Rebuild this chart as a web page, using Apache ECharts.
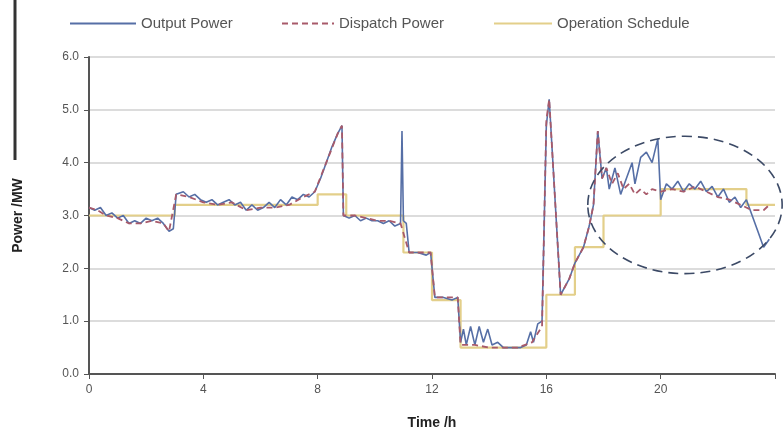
<!DOCTYPE html>
<html><head><meta charset="utf-8">
<script src="https://cdn.jsdelivr.net/npm/echarts@6/dist/echarts.min.js"></script>
<style>html,body{margin:0;padding:0;background:#fff}#c{width:783px;height:435px}</style>
</head><body><div id="c"></div>
<script>
// Output Power (time h, MW)
const outT = [0,0.2,0.4,0.6,0.8,1.0,1.2,1.4,1.6,1.8,2.0,2.2,2.4,2.6,2.8,2.95,3.05,3.3,3.5,3.7,3.9,4.1,4.3,4.5,4.7,4.9,5.1,5.3,5.5,5.7,5.9,6.1,6.3,6.5,6.7,6.9,7.1,7.3,7.5,7.7,7.9,8.1,8.3,8.5,8.7,8.85,8.9,9.1,9.3,9.5,9.7,9.9,10.1,10.3,10.5,10.7,10.9,10.95,11.0,11.1,11.2,11.5,11.8,11.95,12.1,12.4,12.7,12.9,13.0,13.1,13.2,13.35,13.5,13.65,13.8,13.95,14.1,14.3,14.5,14.8,15.1,15.3,15.45,15.55,15.7,15.85,16.0,16.1,16.5,16.8,17.0,17.3,17.5,17.65,17.8,17.95,18.1,18.2,18.4,18.6,18.8,19.0,19.1,19.3,19.5,19.7,19.9,20.0,20.2,20.4,20.6,20.8,21.0,21.2,21.4,21.6,21.8,22.0,22.2,22.4,22.6,22.8,23.0,23.2,23.4,23.6,23.8];
const outV = [3.15,3.1,3.15,3.0,3.05,2.95,3.0,2.85,2.9,2.85,2.95,2.9,2.95,2.85,2.7,2.75,3.4,3.45,3.35,3.4,3.3,3.25,3.3,3.2,3.25,3.3,3.2,3.25,3.1,3.2,3.1,3.15,3.25,3.15,3.3,3.2,3.35,3.3,3.4,3.35,3.45,3.7,4.0,4.3,4.55,4.7,3.0,2.95,3.0,2.9,2.95,2.9,2.9,2.85,2.9,2.8,2.85,4.6,2.9,2.85,2.3,2.3,2.25,2.3,1.45,1.45,1.4,1.45,0.6,0.85,0.55,0.9,0.55,0.9,0.6,0.85,0.55,0.6,0.5,0.5,0.5,0.55,0.8,0.6,0.95,1.0,4.7,5.2,1.5,1.8,2.1,2.4,2.8,3.2,4.6,3.7,3.9,3.5,3.9,3.4,3.7,4.0,3.6,4.1,4.2,4.0,4.45,3.3,3.6,3.5,3.65,3.45,3.6,3.5,3.65,3.45,3.55,3.35,3.5,3.25,3.35,3.15,3.3,3.0,2.7,2.4,2.55];
// Dispatch Power
const dispT = [0,0.3,0.6,1.0,1.4,1.8,2.2,2.6,2.8,3.05,3.5,4.0,4.5,5.0,5.5,6.0,6.5,7.0,7.5,7.9,8.3,8.7,8.85,8.9,9.3,9.7,10.1,10.5,10.9,11.2,11.6,11.95,12.1,12.5,12.9,13.0,13.5,14.0,14.5,15.0,15.5,15.85,16.0,16.1,16.5,16.8,17.0,17.3,17.5,17.65,17.8,17.95,18.1,18.3,18.5,18.7,18.9,19.1,19.3,19.5,19.7,20.0,20.4,20.8,21.2,21.6,22.0,22.4,22.8,23.2,23.6,23.8];
const dispV = [3.15,3.1,3.0,2.95,2.85,2.85,2.9,2.85,2.7,3.4,3.35,3.25,3.2,3.25,3.1,3.15,3.15,3.2,3.35,3.45,4.0,4.55,4.7,3.0,3.0,2.95,2.9,2.9,2.85,2.3,2.3,2.3,1.45,1.45,1.45,0.55,0.55,0.5,0.5,0.5,0.6,0.9,4.8,5.2,1.5,1.8,2.1,2.4,2.8,3.2,4.6,3.7,3.9,3.6,3.8,3.5,3.6,3.4,3.5,3.4,3.5,3.45,3.5,3.45,3.55,3.45,3.35,3.3,3.2,3.1,3.1,3.2];
// Operation Schedule (step start times)
const schedT = [0,3,8,9,11,12,13,16,17,18,20,23,24];
const schedV = [3.0,3.2,3.4,3.0,2.3,1.4,0.5,1.5,2.4,3.0,3.5,3.2,3.2];
const xTicks = [0,4,8,12,16,20];
const seriesNames = ['Output Power','Dispatch Power','Operation Schedule'];

const zip = (a,b)=>a.map((t,i)=>[t,b[i]]);
const chart = echarts.init(document.getElementById('c'));
const font = 'Liberation Sans, Arial, sans-serif';
const legendBase = {top:11,itemHeight:10,itemStyle:{opacity:0},textStyle:{fontSize:15,color:'#555',fontFamily:font}};
chart.setOption({
  animation:false,
  backgroundColor:'#fff',
  legend:[
    Object.assign({data:[seriesNames[0]],left:64,itemWidth:66},legendBase),
    Object.assign({data:[seriesNames[1]],left:276,itemWidth:52},legendBase),
    Object.assign({data:[seriesNames[2]],left:488,itemWidth:58},legendBase)
  ],
  grid:{left:89,right:8,top:57,bottom:60},
  xAxis:{type:'value',min:0,max:24,interval:4,
    name:'Time /h',nameLocation:'middle',nameGap:42,
    nameTextStyle:{fontSize:14,fontWeight:'bold',color:'#222',fontFamily:font},
    axisLine:{lineStyle:{color:'#555',width:2}},
    axisTick:{show:true,length:5,lineStyle:{color:'#555'}},
    axisLabel:{fontSize:12,color:'#555',fontFamily:font,margin:10,
      formatter:v=>xTicks.includes(v)?String(v):''},
    splitLine:{show:false}},
  yAxis:{type:'value',min:0,max:6,interval:1,
    name:'Power /MW',nameLocation:'middle',nameGap:64,
    nameTextStyle:{fontSize:14,fontWeight:'bold',color:'#222',fontFamily:font},
    axisLine:{show:true,lineStyle:{color:'#555',width:2}},
    axisTick:{show:true,length:5,lineStyle:{color:'#555'}},
    axisLabel:{fontSize:12,color:'#555',fontFamily:font,margin:10,formatter:v=>v.toFixed(1)},
    splitLine:{lineStyle:{color:'#dcdcdc',width:2}}},
  series:[
    {name:seriesNames[2],type:'line',step:'end',data:zip(schedT,schedV),
     showSymbol:false,symbol:'none',lineStyle:{color:'#e3cf8a',width:2.2},itemStyle:{color:'#d9c98f'},z:1},
    {name:seriesNames[0],type:'line',data:zip(outT,outV),showSymbol:false,symbol:'none',
     lineStyle:{color:'#566fa6',width:1.6},itemStyle:{color:'#8a8f98'},z:2},
    {name:seriesNames[1],type:'line',data:zip(dispT,dispV),showSymbol:false,symbol:'none',
     lineStyle:{color:'#a85a6a',width:1.8,type:[6,4]},itemStyle:{color:'#b58a95'},z:3}
  ]
});
const c = chart.convertToPixel({gridIndex:0},[20.85,3.2]);
const r = chart.convertToPixel({gridIndex:0},[24.25,4.5]);
chart.setOption({graphic:[
  {type:'ellipse',shape:{cx:c[0],cy:c[1],rx:r[0]-c[0],ry:c[1]-r[1]},
   style:{fill:'none',stroke:'#3c4a66',lineWidth:1.6,lineDash:[10,6]},z:10},
  {type:'line',shape:{x1:15,y1:0,x2:15,y2:160},style:{stroke:'#333',lineWidth:3}}
]});
</script></body></html>
